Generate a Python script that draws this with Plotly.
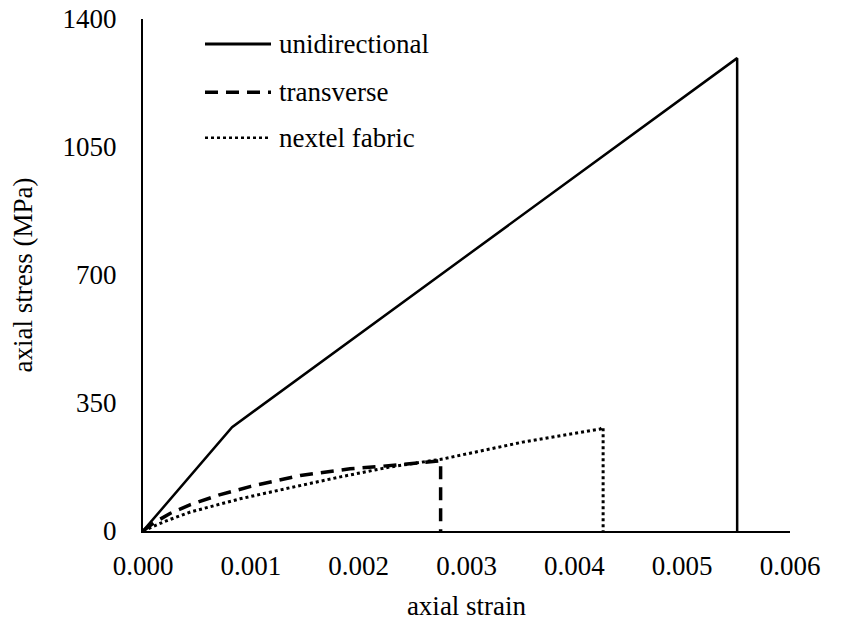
import plotly.graph_objects as go

# Data
uni_strain = [0.0, 0.000826, 0.00551, 0.00551]
uni_stress = [0, 284, 1293, 0]

trans_strain = [0.0, 0.00010, 0.00025, 0.00044, 0.00070, 0.00100, 0.00146, 0.00192, 0.00238, 0.00276, 0.00276]
trans_stress = [0, 22, 48, 72, 98, 122, 152, 170, 181, 192, 0]

nextel_strain = [0.0, 0.00020, 0.00044, 0.00090, 0.00136, 0.00183, 0.00229, 0.00278, 0.00352, 0.00424, 0.004267, 0.004267]
nextel_stress = [0, 26, 52, 88, 118, 148, 175, 197, 243, 279, 284, 0]

series_names = ["unidirectional", "transverse", "nextel fabric"]
x_ticks = [0.000, 0.001, 0.002, 0.003, 0.004, 0.005, 0.006]
y_ticks = [0, 350, 700, 1050, 1400]

FONT = "Liberation Serif, Times New Roman, serif"
FS = 27

fig = go.Figure()
fig.add_trace(go.Scatter(x=uni_strain, y=uni_stress, mode="lines", name=series_names[0],
                         line=dict(color="black", width=2.5), showlegend=False))
fig.add_trace(go.Scatter(x=trans_strain, y=trans_stress, mode="lines", name=series_names[1],
                         line=dict(color="black", width=3.5, dash="13px,8px"), showlegend=False))
fig.add_trace(go.Scatter(x=nextel_strain, y=nextel_stress, mode="lines", name=series_names[2],
                         line=dict(color="black", width=3, dash="dot"), showlegend=False))

# Manual legend (paper coordinates)
legend_rows = [(series_names[0], "solid", 3, 0.951),
               (series_names[1], "13px,8px", 3.5, 0.857),
               (series_names[2], "dot", 2.5, 0.768)]
for name, dash, w, yy in legend_rows:
    fig.add_shape(type="line", xref="paper", yref="paper",
                  x0=(205 - 143) / 647, x1=(271 - 143) / 647, y0=yy, y1=yy,
                  line=dict(color="black", width=w, dash=dash))
    fig.add_annotation(xref="paper", yref="paper", x=(277 - 143) / 647, y=yy,
                       text=name, showarrow=False, xanchor="left", yanchor="middle",
                       font=dict(family=FONT, size=FS, color="black"))

fig.update_layout(
    width=842, height=631,
    margin=dict(l=143, r=52, t=19, b=100, autoexpand=False),
    plot_bgcolor="white", paper_bgcolor="white",
    font=dict(family=FONT, size=FS, color="black"),
    showlegend=False,
)
fig.update_xaxes(range=[0, 0.006], tickvals=x_ticks, ticktext=[f"{v:.3f}" for v in x_ticks],
                 showgrid=False, zeroline=False, showline=True, linecolor="black", linewidth=2,
                 ticks="", ticklabelstandoff=10, automargin=False,
                 title=dict(text="axial strain", font=dict(family=FONT, size=FS), standoff=16))
fig.update_yaxes(range=[0, 1400], tickvals=y_ticks, ticktext=[str(v) for v in y_ticks],
                 showgrid=False, zeroline=False, showline=True, linecolor="black", linewidth=2,
                 ticks="", ticklabelstandoff=19, automargin=False,
                 title=dict(text="axial stress (MPa)", font=dict(family=FONT, size=FS), standoff=22))

fig.write_html("out.html")
